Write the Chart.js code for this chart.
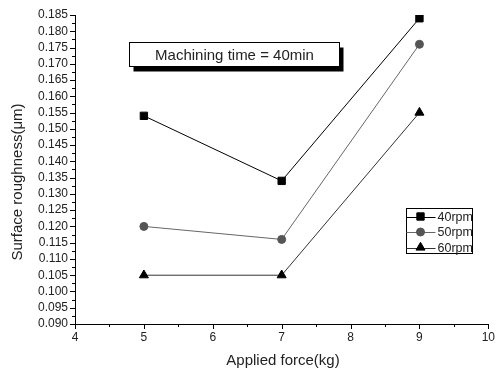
<!DOCTYPE html>
<html>
<head>
<meta charset="utf-8">
<script src="https://cdn.jsdelivr.net/npm/chart.js@4/dist/chart.umd.min.js"></script>
<style>
html,body{margin:0;padding:0;background:#fff;}
#wrap{width:501px;height:372px;position:relative;}
</style>
</head>
<body>
<div id="wrap"><canvas id="c" width="501" height="372"></canvas></div>
<script>
const forces = [5, 7, 9];
const rpm40 = [0.154, 0.134, 0.184];
const rpm50 = [0.120, 0.116, 0.176];
const rpm60 = [0.105, 0.105, 0.155];
const seriesLabels = ['40rpm', '50rpm', '60rpm'];
const xTitle = 'Applied force(kg)';
const yTitle = 'Surface roughness(\u03bcm)';
const note = 'Machining time = 40min';
const xMin = 4, xMax = 10, xStep = 1;
const yMin = 0.090, yMax = 0.185, yStep = 0.005;

const FONT = '"Liberation Sans", Arial, sans-serif';
const TXT = '#222';

function pts(vals){ return forces.map((f,i)=>({x:f,y:vals[i]})); }

const styles = [
  {line:'#000', fill:'#000', pt:'rect', r:5.2},
  {line:'#666', fill:'#555', pt:'circle', r:4},
  {line:'#333', fill:'#000', pt:'triangle', r:5.2}
];
const seriesData = [rpm40, rpm50, rpm60];

const datasets = seriesData.map((v,i)=>({
  label: seriesLabels[i],
  data: pts(v),
  borderColor: styles[i].line,
  borderWidth: 1,
  pointStyle: styles[i].pt,
  pointRadius: styles[i].r,
  pointBackgroundColor: styles[i].fill,
  pointBorderColor: styles[i].fill,
  pointBorderWidth: 1,
  tension: 0,
  fill: false
}));

const decor = {
  id: 'decor',
  afterDraw(chart){
    const ctx = chart.ctx;
    const xs = chart.scales.x, ys = chart.scales.y;
    const ca = chart.chartArea;
    ctx.save();
    ctx.strokeStyle = '#000';
    ctx.lineWidth = 1;
    // y ticks
    for (let k = 0; k <= Math.round((yMax - yMin) / (yStep/2)); k++) {
      const v = yMin + k * yStep / 2;
      const py = Math.round(ys.getPixelForValue(v)) + 0.5;
      const len = (k % 2 === 0) ? 5 : 3;
      ctx.beginPath();
      ctx.moveTo(ca.left, py);
      ctx.lineTo(ca.left - len, py);
      ctx.stroke();
    }
    // x ticks
    for (let k = 0; k <= Math.round((xMax - xMin) / (xStep/2)); k++) {
      const v = xMin + k * xStep / 2;
      const px = Math.round(xs.getPixelForValue(v)) + 0.5;
      const len = (k % 2 === 0) ? 5 : 3;
      ctx.beginPath();
      ctx.moveTo(px, ca.bottom);
      ctx.lineTo(px, ca.bottom + len);
      ctx.stroke();
    }
    // axis titles
    ctx.fillStyle = TXT;
    ctx.font = '15px ' + FONT;
    ctx.textAlign = 'center';
    ctx.textBaseline = 'middle';
    ctx.fillText(xTitle, 283, 361);
    ctx.save();
    ctx.translate(18, 182);
    ctx.rotate(-Math.PI / 2);
    ctx.fillText(yTitle, 0, 0);
    ctx.restore();

    // annotation box
    const bx = 129.5, by = 42.5, bw = 210, bh = 24;
    ctx.fillStyle = '#000';
    ctx.fillRect(bx + 4, by + 5, bw, bh);
    ctx.fillStyle = '#fff';
    ctx.fillRect(bx, by, bw, bh);
    ctx.strokeStyle = '#000';
    ctx.strokeRect(bx, by, bw, bh);
    ctx.fillStyle = TXT;
    ctx.font = '15px ' + FONT;
    ctx.textAlign = 'center';
    ctx.textBaseline = 'middle';
    ctx.fillText(note, bx + bw / 2, by + bh / 2 + 1);

    // legend
    const lx = 406.5, ly = 208.5, lw = 66, lh = 45;
    ctx.fillStyle = '#fff';
    ctx.fillRect(lx, ly, lw, lh);
    ctx.strokeStyle = '#000';
    ctx.strokeRect(lx, ly, lw, lh);
    ctx.font = '12.5px ' + FONT;
    ctx.textAlign = 'left';
    ctx.textBaseline = 'middle';
    chart.data.datasets.forEach((ds, i) => {
      const cy = 216.5 + i * 15.5;
      ctx.strokeStyle = ds.borderColor;
      ctx.lineWidth = 1;
      ctx.beginPath();
      ctx.moveTo(lx, Math.round(cy) + 0.5);
      ctx.lineTo(lx + 29, Math.round(cy) + 0.5);
      ctx.stroke();
      ctx.fillStyle = ds.pointBackgroundColor;
      ctx.strokeStyle = ds.pointBorderColor;
      Chart.helpers.drawPoint(ctx, {pointStyle: ds.pointStyle, radius: ds.pointRadius, rotation: 0, borderWidth: 1}, lx + 14, cy);
      ctx.fillStyle = TXT;
      ctx.fillText(ds.label, lx + 31, cy + 1);
    });
    ctx.restore();
  }
};

new Chart(document.getElementById('c'), {
  type: 'line',
  data: { datasets },
  options: {
    responsive: false,
    animation: false,
    devicePixelRatio: 1,
    layout: { padding: { top: 15, right: 11, left: 0, bottom: 0 } },
    plugins: { legend: { display: false }, tooltip: { enabled: false }, title: { display: false } },
    scales: {
      x: {
        type: 'linear', min: xMin, max: xMax,
        afterFit(s){ s.height = 48; },
        ticks: { stepSize: xStep, autoSkip: false, color: TXT, font: { family: FONT, size: 12 }, padding: 6, maxRotation: 0 },
        grid: { display: true, drawOnChartArea: false, drawTicks: false },
        border: { display: true, color: '#000', width: 1 }
      },
      y: {
        type: 'linear', min: yMin, max: yMax,
        afterFit(s){ s.width = 75; },
        afterBuildTicks(s){
          const t = [];
          const n = Math.round((yMax - yMin) / yStep);
          for (let k = 0; k <= n; k++) t.push({ value: +(yMin + k * yStep).toFixed(3) });
          s.ticks = t;
        },
        ticks: { autoSkip: false, color: TXT, font: { family: FONT, size: 12 }, padding: 7,
          callback: v => v.toFixed(3) },
        grid: { display: true, drawOnChartArea: false, drawTicks: false },
        border: { display: true, color: '#000', width: 1 }
      }
    }
  },
  plugins: [decor]
});
</script>
</body>
</html>
